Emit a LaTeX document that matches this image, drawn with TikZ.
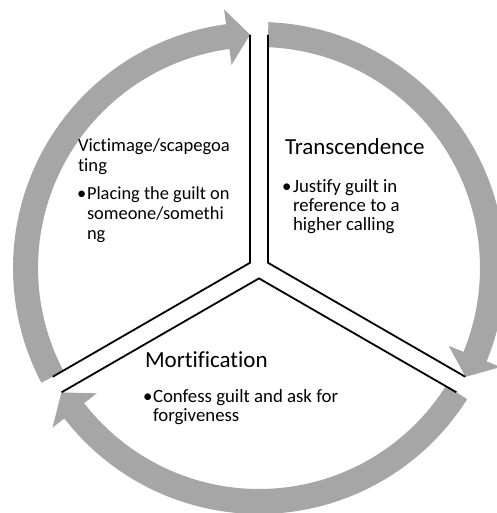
\documentclass[tikz,border=0pt]{standalone}
\usepackage{fontspec}
\setmainfont{Carlito}[Ligatures=NoCommon]
\definecolor{arrowgray}{RGB}{166,166,166}
\newcommand\textlines[1]{\begin{tabular}[t]{@{}l@{}}#1\end{tabular}}
\begin{document}
\begin{tikzpicture}[x=1pt,y=1pt,
  ringarrow/.style={fill=arrowgray},
  divider/.style={line width=1.8pt, line join=miter, line cap=butt},
  txt/.style={inner sep=0pt, outer sep=0pt, anchor=base west},
  bigtitle/.style={txt, font=\fontsize{23}{23}\selectfont},
  smalltitle/.style={txt, font=\fontsize{18.6}{20}\selectfont},
  bodyA/.style={txt, font=\fontsize{18.4}{20}\selectfont},
  bodyB/.style={txt, font=\fontsize{18.8}{18.5}\selectfont},
  bodyC/.style={txt, font=\fontsize{18.8}{19}\selectfont}
]
\useasboundingbox (0,0) rectangle (496,513);

\begin{scope}[shift={(259,245)}]
  % three curved arrows running clockwise round the cycle
  \fill[ringarrow] (207.8:246pt) arc[start angle=207.8, end angle=97.7, radius=246pt]
    -- (97.7:261pt) -- (92.2:233.5pt) -- (97.7:205pt) -- (97.7:221pt)
    arc[start angle=97.7, end angle=207.8, radius=221pt] -- cycle;
  \fill[ringarrow] (87.8:246pt) arc[start angle=87.8, end angle=-22.3, radius=246pt]
    -- (-22.3:261pt) -- (-27.8:233.5pt) -- (-22.3:205pt) -- (-22.3:221pt)
    arc[start angle=-22.3, end angle=87.8, radius=221pt] -- cycle;
  \fill[ringarrow] (-32.2:246pt) arc[start angle=-32.2, end angle=-142.3, radius=246pt]
    -- (-142.3:261pt) -- (-147.8:233.5pt) -- (-142.3:205pt) -- (-142.3:221pt)
    arc[start angle=-142.3, end angle=-32.2, radius=221pt] -- cycle;

  % corners and outer ends of the three sectors
  \coordinate (cTL) at (150:10.4pt);
  \coordinate (cR)  at (30:10.4pt);
  \coordinate (cB)  at (270:10.4pt);
  \coordinate (tlA) at (92.2:233.2pt);
  \coordinate (tlB) at (207.8:233.2pt);
  \coordinate (rA)  at (87.8:233.2pt);
  \coordinate (rB)  at (-27.8:233.2pt);
  \coordinate (bA)  at (-32.2:233.2pt);
  \coordinate (bB)  at (212.2:233.2pt);

  % sector edges forming the split Y
  \draw[divider] (tlA) -- (cTL) -- (tlB);
  \draw[divider] (rA) -- (cR) -- (rB);
  \draw[divider] (bA) -- (cB) -- (bB);
\end{scope}

% upper left sector
\node[smalltitle] (vtitle) at (78,361) {\textlines{Victimage/scapegoa\\ting}};
\node[bodyA] (vbul) at (77,313) {•};
\node[bodyA] (vbody) at (87,313) {\textlines{Placing the guilt on\\someone/somethi\\ng}};

% right sector
\node[bigtitle] (ttitle) at (285,358) {Transcendence};
\node[bodyB] (tbul) at (282,320) {•};
\node[bodyB] (tbody) at (293,320) {\textlines{Justify guilt in\\reference to a\\higher calling}};

% bottom sector
\node[bigtitle] (mtitle) at (145,145) {Mortification};
\node[bodyC] (mbul) at (143,110) {•};
\node[bodyC] (mbody) at (153,110) {\textlines{Confess guilt and ask for\\forgiveness}};
\end{tikzpicture}
\end{document}
